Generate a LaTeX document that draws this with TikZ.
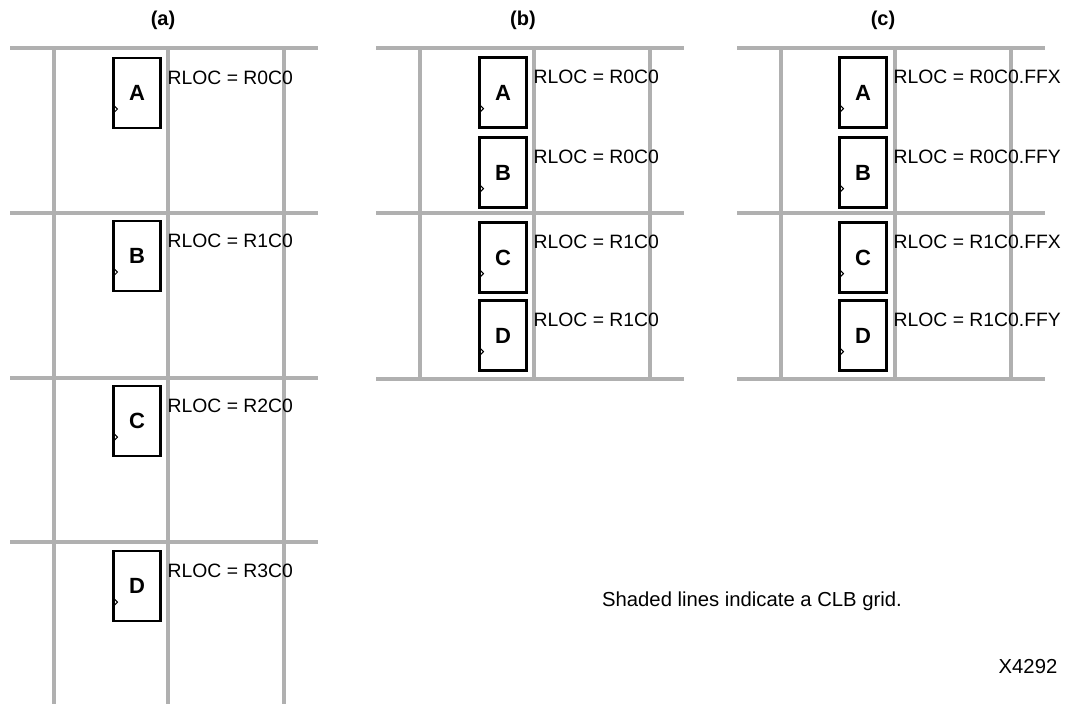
\documentclass[tikz,border=0pt]{standalone}
\usepackage{fontspec}
\setmainfont{Liberation Sans}
\usetikzlibrary{positioning}
\definecolor{gridgray}{HTML}{B0B0B0}

\newcommand{\clockmark}[1]{%
  \draw[line width=0.75pt] ([xshift=1pt, yshift=18.5pt]#1.south west) -- ++(3.2pt,-3.2pt) -- ++(-3.2pt,-3.2pt);}

\tikzset{
  clbline/.style={gridgray, line width=2.5pt},
  ffbox/.style={draw, line width=2.2pt, minimum width=35.5pt, minimum height=52.5pt, inner sep=0pt,
    font=\bfseries\fontsize{16.5}{16.5}\selectfont},
  rloc/.style={inner sep=0pt, anchor=north west, font=\fontsize{14.5}{15}\selectfont},
  panel/.style={font=\bfseries\fontsize{15}{15}\selectfont, inner sep=0pt},
  note/.style={font=\fontsize{15.2}{15}\selectfont, inner sep=0pt}
}

\begin{document}
\begin{tikzpicture}[x=0.75pt, y=-0.75pt]
    \useasboundingbox (0,0) rectangle (1071,704);

    % CLB grid, panel (a)
    \foreach \r in {48,213,378,542} \draw[clbline] (10,\r) -- (318,\r);
    \foreach \c in {54,168,284} \draw[clbline] (\c,48) -- (\c,704);

    % CLB grid, panels (b) and (c)
    \foreach \dx in {366,727} {
        \foreach \r in {48,213,379} \draw[clbline] (10+\dx,\r) -- (318+\dx,\r);
        \foreach \c in {54,168,284} \draw[clbline] (\c+\dx,48) -- (\c+\dx,379);
    }

    % panel titles
    \node[panel] (titleA) at (163,20) {(a)};
    \node[panel] (titleB) at (523,20) {(b)};
    \node[panel] (titleC) at (883,20) {(c)};

    % (a) one flip-flop per CLB row
    \node[ffbox] (aA) at (137,93) {A};
    \node[ffbox] (aB) at (137,256) {B};
    \node[ffbox] (aC) at (137,421) {C};
    \node[ffbox] (aD) at (137,586) {D};
    \node[rloc] at ([xshift=4pt, yshift=-10.5pt]aA.north east) {RLOC = R0C0};
    \node[rloc] at ([xshift=4pt, yshift=-10.5pt]aB.north east) {RLOC = R1C0};
    \node[rloc] at ([xshift=4pt, yshift=-10.5pt]aC.north east) {RLOC = R2C0};
    \node[rloc] at ([xshift=4pt, yshift=-10.5pt]aD.north east) {RLOC = R3C0};

    % (b) two flip-flops per CLB
    \node[ffbox] (bA) at (503,92.5) {A};
    \node[ffbox] (bB) at (503,172.5) {B};
    \node[ffbox] (bC) at (503,257.5) {C};
    \node[ffbox] (bD) at (503,335.5) {D};
    \node[rloc] at ([xshift=4pt, yshift=-10.5pt]bA.north east) {RLOC = R0C0};
    \node[rloc] at ([xshift=4pt, yshift=-10.5pt]bB.north east) {RLOC = R0C0};
    \node[rloc] at ([xshift=4pt, yshift=-10.5pt]bC.north east) {RLOC = R1C0};
    \node[rloc] at ([xshift=4pt, yshift=-10.5pt]bD.north east) {RLOC = R1C0};

    % (c) same, with FFX / FFY
    \node[ffbox] (cA) at (863,92.5) {A};
    \node[ffbox] (cB) at (863,172.5) {B};
    \node[ffbox] (cC) at (863,257.5) {C};
    \node[ffbox] (cD) at (863,335.5) {D};
    \node[rloc] at ([xshift=4pt, yshift=-10.5pt]cA.north east) {RLOC = R0C0.FFX};
    \node[rloc] at ([xshift=4pt, yshift=-10.5pt]cB.north east) {RLOC = R0C0.FFY};
    \node[rloc] at ([xshift=4pt, yshift=-10.5pt]cC.north east) {RLOC = R1C0.FFX};
    \node[rloc] at ([xshift=4pt, yshift=-10.5pt]cD.north east) {RLOC = R1C0.FFY};

    % clock inputs
    \foreach \n in {aA,aB,aC,aD,bA,bB,bC,bD,cA,cB,cC,cD} {\clockmark{\n}}

    \node[note] (legend) at (752,601) {Shaded lines indicate a CLB grid.};
    \node[note] (figid) at (1028,667) {X4292};
\end{tikzpicture}
\end{document}
